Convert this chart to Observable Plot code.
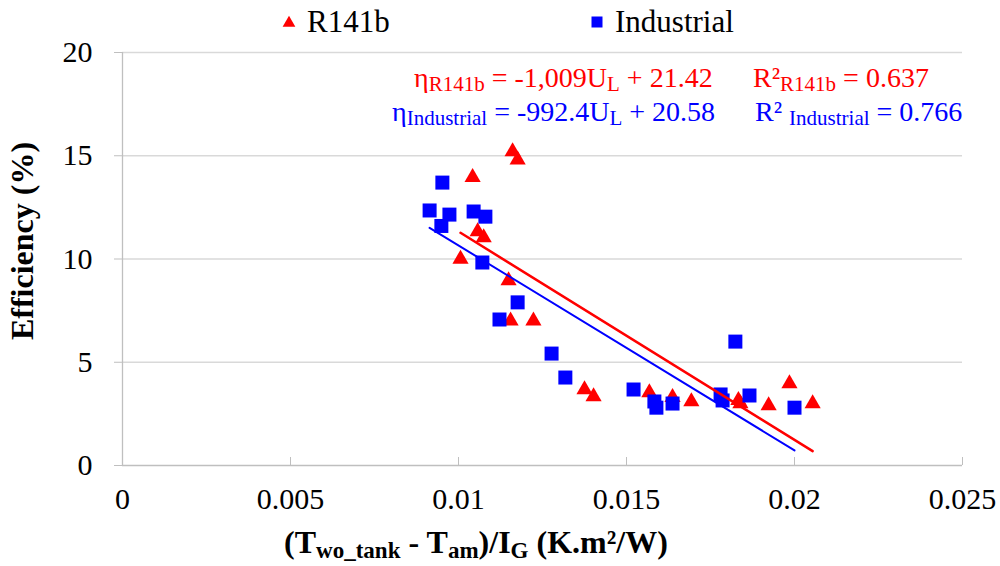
<!DOCTYPE html>
<html>
<head>
<meta charset="utf-8">
<script src="https://cdn.jsdelivr.net/npm/d3@7"></script>
<script src="https://cdn.jsdelivr.net/npm/@observablehq/plot@0.6"></script>
<style>
  body { margin: 0; background: #fff; }
  #wrap { position: relative; width: 1000px; height: 566px; font-family: 'Liberation Serif', serif; }
  #chart { position: absolute; left: 0; top: 0; }
  .t { position: absolute; white-space: nowrap; line-height: 1; font-family: 'Liberation Serif', serif; }
  .t sub { font-size: 0.75em; vertical-align: -0.2em; line-height: 0; }
  .red { color: #ff0000; }
  .blue { color: #0000ff; }
  #xtitle sub { font-size: 0.72em; }
  #ytitle { left: 38px; top: 241px; font-size: 32px; font-weight: bold; transform-origin: 0 0; transform: rotate(-90deg) translate(-50%, -100%); }
</style>
</head>
<body>
<div id="wrap">
  <div id="chart"></div>
  <div class="t" style="left:307px; top:6px; font-size:31px;">R141b</div>
  <div class="t" style="left:615px; top:6px; font-size:31px;">Industrial</div>
  <div class="t red" style="left:414px; top:64px; font-size:28px;">η<sub>R141b</sub> = -1,009U<sub>L</sub> + 21.42</div>
  <div class="t red" style="left:753px; top:64px; font-size:28px;">R²<sub>R141b</sub> = 0.637</div>
  <div class="t blue" style="left:392px; top:98px; font-size:28px;">η<sub>Industrial</sub> = -992.4U<sub>L</sub> + 20.58</div>
  <div class="t blue" style="left:755px; top:98px; font-size:28px;">R² <sub>Industrial</sub> = 0.766</div>
  <div class="t" id="xtitle" style="left:284px; top:526px; font-size:32px; font-weight:bold;">(T<sub>wo_tank</sub> - T<sub>am</sub>)/I<sub>G</sub> (K.m²/W)</div>
  <div class="t" id="ytitle">Efficiency (%)</div>
</div>
<script>
// ---- data ----
const r141bX = [0.01161, 0.01176, 0.01042, 0.01057, 0.01075, 0.01006, 0.01149, 0.01155, 0.01223, 0.01375, 0.01402, 0.01568, 0.01637, 0.01693, 0.01833, 0.01839, 0.01923, 0.01985, 0.02054];
const r141bY = [15.2, 14.8, 13.95, 11.33, 11.04, 10.0, 8.96, 7.0, 7.0, 3.68, 3.34, 3.53, 3.3, 3.1, 3.15, 3.0, 2.9, 3.97, 3.0];

const industrialX = [0.00914, 0.00952, 0.00949, 0.00973, 0.01045, 0.0108, 0.01071, 0.01176, 0.01122, 0.01277, 0.01318, 0.01521, 0.01583, 0.01589, 0.01637, 0.01824, 0.0178, 0.01786, 0.01866, 0.0200];
const industrialY = [12.35, 13.7, 11.6, 12.15, 12.3, 12.05, 9.83, 7.9, 7.07, 5.42, 4.26, 3.68, 3.1, 2.8, 3.0, 6.0, 3.44, 3.15, 3.39, 2.8];

// linear fits printed on the chart
const r141bFit = {slope: -1009, intercept: 21.42};
const industrialFit = {slope: -992.4, intercept: 20.58};

const xTicks = [0, 0.005, 0.01, 0.015, 0.02, 0.025];
const yTicks = [0, 5, 10, 15, 20];

// ---- build tables ----
const r141b = r141bX.map((x, i) => ({x, y: r141bY[i]}));
const industrial = industrialX.map((x, i) => ({x, y: industrialY[i]}));
function fitLine(xs, fit) {
  const [a, b] = d3.extent(xs);
  return [a, b].map(x => ({x, y: fit.slope * x + fit.intercept}));
}
const r141bLine = fitLine(r141bX, r141bFit);
const industrialLine = fitLine(industrialX, industrialFit);

const FF = "Liberation Serif";
const chart = Plot.plot({
  width: 1000,
  height: 566,
  marginLeft: 122,
  marginRight: 38,
  marginTop: 52,
  marginBottom: 101,
  style: {fontFamily: "'Liberation Serif', serif", fontSize: "30px", color: "#000", background: "#fff"},
  x: {domain: [0, 0.025]},
  y: {domain: [0, 20]},
  marks: [
    Plot.gridY(yTicks.filter(d => d > 0), {stroke: "#d9d9d9", strokeOpacity: 1, strokeWidth: 1.3}),
    Plot.ruleY([0], {stroke: "#bfbfbf", strokeWidth: 1.3}),
    Plot.ruleX([0], {stroke: "#bfbfbf", strokeWidth: 1.3}),
    Plot.axisY({ticks: yTicks, tickSize: 8, tickPadding: 22, stroke: "#bfbfbf", label: null, fontSize: 30, fontFamily: FF}),
    Plot.axisX({ticks: xTicks, tickSize: 0, tickPadding: 22, tickFormat: d => String(d), label: null, fontSize: 30, fontFamily: FF}),
    Plot.axisX({ticks: xTicks, tickSize: 8, dy: -8, tickFormat: () => "", stroke: "#bfbfbf", label: null}),
    Plot.dot(r141b, {x: "x", y: "y", symbol: "triangle", r: 6, fill: "#ff0000", stroke: "none"}),
    Plot.dot(industrial, {x: "x", y: "y", symbol: "square", r: 7.9, fill: "#0000ff", stroke: "none"}),
    Plot.line(industrialLine, {x: "x", y: "y", stroke: "#0000ff", strokeWidth: 2}),
    Plot.line(r141bLine, {x: "x", y: "y", stroke: "#ff0000", strokeWidth: 2.5})
  ]
});
document.getElementById("chart").appendChild(chart);

// legend symbols (drawn with d3.symbol into a small overlay svg)
const lg = d3.select("#wrap").append("svg")
  .attr("width", 1000).attr("height", 50)
  .style("position", "absolute").style("left", 0).style("top", 0);
lg.append("path").attr("d", d3.symbol(d3.symbolTriangle, 70)()).attr("transform", "translate(289,23)").attr("fill", "#ff0000");
lg.append("path").attr("d", d3.symbol(d3.symbolSquare, 121)()).attr("transform", "translate(597,22)").attr("fill", "#0000ff");
</script>
</body>
</html>
